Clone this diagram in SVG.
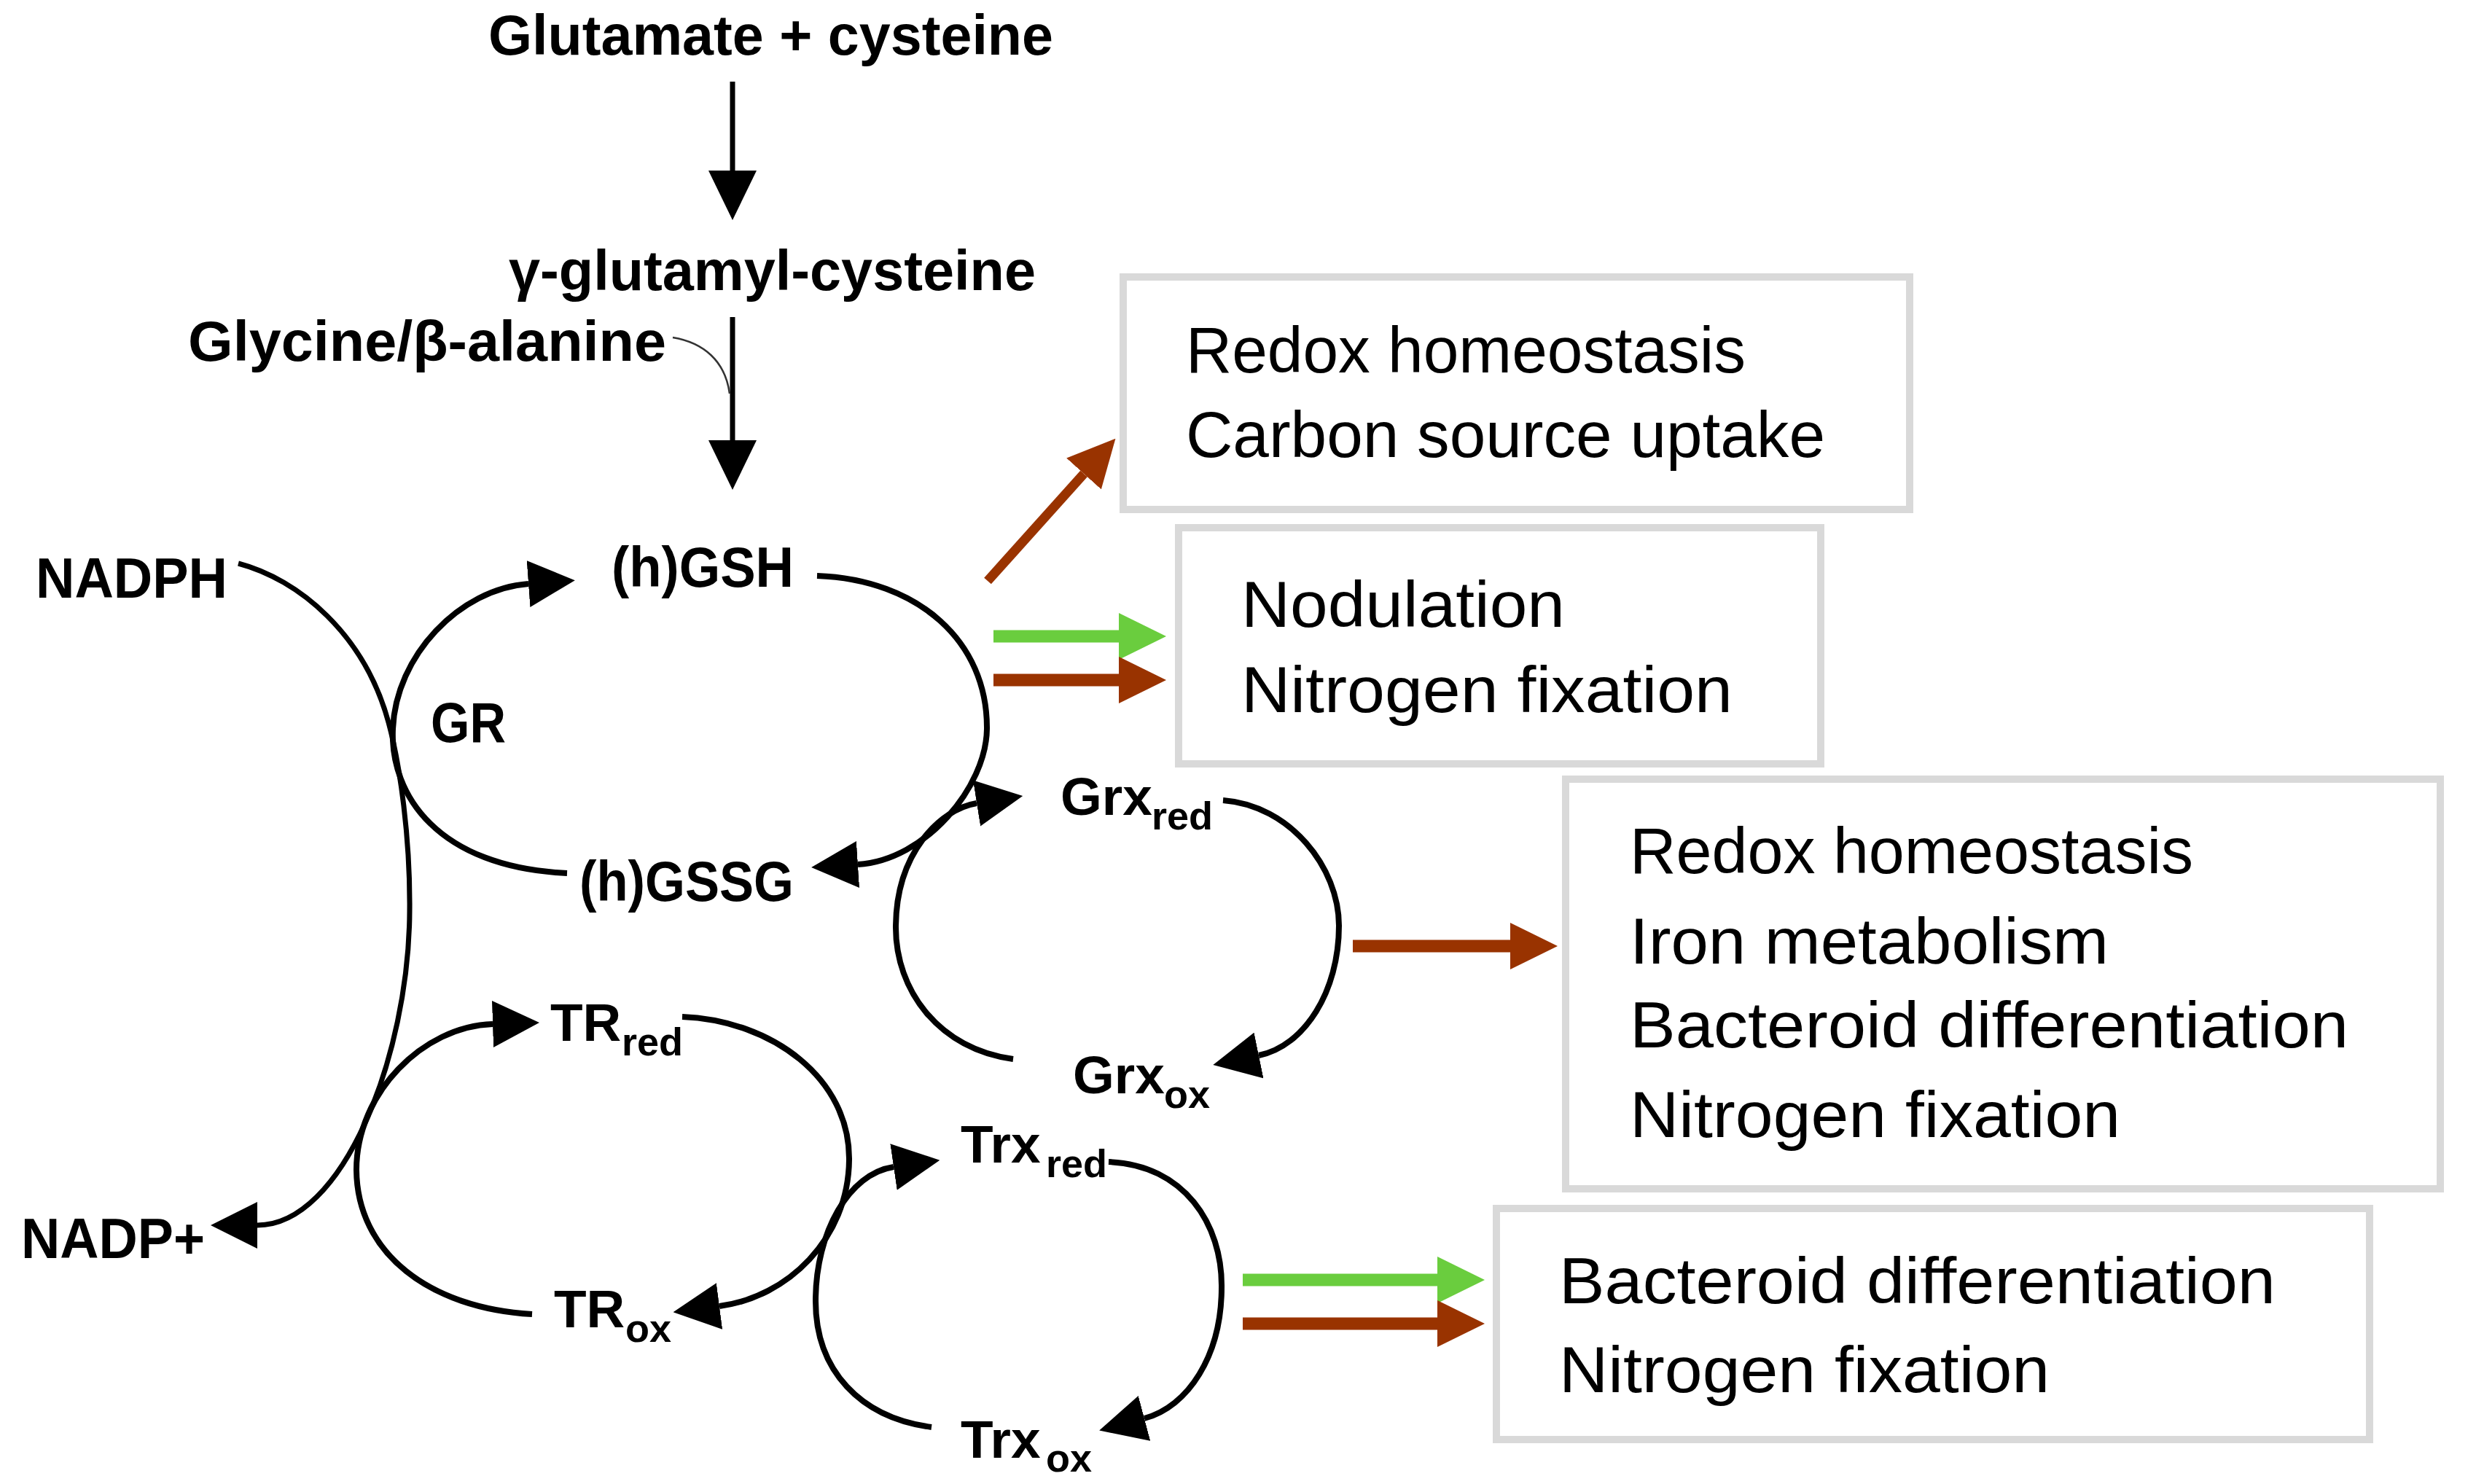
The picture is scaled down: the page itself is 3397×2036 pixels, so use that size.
<svg xmlns="http://www.w3.org/2000/svg" width="3397" height="2036" viewBox="0 0 3397 2036">
<defs>
<style>
.lbl{font-family:"Liberation Sans",Arial,sans-serif;font-weight:bold;font-size:78px;fill:#000}
.lbs{font-family:"Liberation Sans",Arial,sans-serif;font-weight:bold;font-size:73px;fill:#000}
.sub{font-size:54px}
.box{fill:#fff;stroke:#d9d9d9;stroke-width:10}
.bt{font-family:"Liberation Sans",Arial,sans-serif;font-size:89px;fill:#000}
.ln{fill:none;stroke:#000;stroke-width:8}
.nl{fill:none;stroke:#000;stroke-width:7}
.vt{fill:none;stroke:#000;stroke-width:7}
.hair{fill:none;stroke:#333;stroke-width:2.5}
.br{fill:none;stroke:#993300;stroke-width:17}
.brd{fill:none;stroke:#993300;stroke-width:13}
.gr{fill:none;stroke:#6acd3e;stroke-width:17}
</style>
<marker id="ah" markerUnits="userSpaceOnUse" viewBox="0 0 64 64" markerWidth="64" markerHeight="64" refX="0" refY="32" orient="auto"><path d="M0,0L64,32L0,64Z" fill="#000"/></marker>
<marker id="ahv" markerUnits="userSpaceOnUse" viewBox="0 0 68 66" markerWidth="68" markerHeight="66" refX="0" refY="33" orient="auto"><path d="M0,0L68,33L0,66Z" fill="#000"/></marker>
<marker id="ahb" markerUnits="userSpaceOnUse" viewBox="0 0 65 64" markerWidth="65" markerHeight="64" refX="0" refY="32" orient="auto"><path d="M0,0L65,32L0,64Z" fill="#993300"/></marker>
<marker id="ahg" markerUnits="userSpaceOnUse" viewBox="0 0 65 64" markerWidth="65" markerHeight="64" refX="0" refY="32" orient="auto"><path d="M0,0L65,32L0,64Z" fill="#6acd3e"/></marker>
</defs>
<rect x="0" y="0" width="3397" height="2036" fill="#fff"/>

<g id="connectors">
<path class="vt" d="M1005,112V234" marker-end="url(#ahv)"/>
<path class="vt" d="M1005,435V604" marker-end="url(#ahv)"/>
<path class="hair" d="M923,463C965,470 995,495 1001,540"/>
<path class="nl" d="M327,773C410,795 500,870 533,991C549,1050 563,1150 562,1250C561,1450 470,1681 353,1681" marker-end="url(#ah)"/>
<path class="ln" d="M778,1198C600,1190 535,1090 539,1000C543,900 630,808 725,801" marker-end="url(#ah)"/>
<path class="ln" d="M1121,790C1260,795 1355,880 1354,1000C1353,1080 1270,1180 1177,1186" marker-end="url(#ah)"/>
<path class="ln" d="M1390,1453C1290,1440 1228,1360 1229,1270C1230,1170 1290,1110 1340,1102" marker-end="url(#ah)"/>
<path class="ln" d="M1678,1098C1770,1105 1837,1190 1837,1270C1837,1360 1790,1435 1727,1448" marker-end="url(#ah)"/>
<path class="ln" d="M730,1803C590,1795 490,1720 489,1605C489,1500 580,1408 676,1405" marker-end="url(#ah)"/>
<path class="ln" d="M936,1395C1060,1400 1166,1480 1165,1591C1164,1700 1080,1780 987,1792" marker-end="url(#ah)"/>
<path class="ln" d="M1278,1958C1180,1945 1119,1880 1119,1785C1119,1690 1165,1610 1226,1601" marker-end="url(#ah)"/>
<path class="ln" d="M1521,1594C1625,1598 1677,1680 1676,1766C1676,1860 1630,1930 1570,1946" marker-end="url(#ah)"/>
<path class="brd" d="M1355,797L1487,650" marker-end="url(#ahb)"/>
<path class="gr" d="M1363,873H1535" marker-end="url(#ahg)"/>
<path class="br" d="M1363,933H1535" marker-end="url(#ahb)"/>
<path class="br" d="M1856,1298H2072" marker-end="url(#ahb)"/>
<path class="gr" d="M1705,1756H1972" marker-end="url(#ahg)"/>
<path class="br" d="M1705,1816H1972" marker-end="url(#ahb)"/>
</g>

<g id="glutamate"><text class="lbl" x="670" y="75" textLength="775" lengthAdjust="spacingAndGlyphs">Glutamate + cysteine</text></g>
<g id="gamma-glutamyl-cysteine"><text class="lbl" x="698" y="398" textLength="723" lengthAdjust="spacingAndGlyphs">γ-glutamyl-cysteine</text></g>
<g id="glycine"><text class="lbl" x="258" y="495" textLength="656" lengthAdjust="spacingAndGlyphs">Glycine/β-alanine</text></g>
<g id="nadph"><text class="lbl" x="49" y="820" textLength="263" lengthAdjust="spacingAndGlyphs">NADPH</text></g>
<g id="gsh"><text class="lbl" x="839" y="805" textLength="250" lengthAdjust="spacingAndGlyphs">(h)GSH</text></g>
<g id="gr"><text class="lbl" x="591" y="1018" textLength="103" lengthAdjust="spacingAndGlyphs">GR</text></g>
<g id="gssg"><text class="lbl" x="795" y="1236" textLength="294" lengthAdjust="spacingAndGlyphs">(h)GSSG</text></g>
<g id="grx-red"><text class="lbs" x="1455" y="1118">Grx<tspan class="sub" x="1580" y="1138">red</tspan></text></g>
<g id="grx-ox"><text class="lbs" x="1472" y="1500">Grx<tspan class="sub" x="1597" y="1520">ox</tspan></text></g>
<g id="tr-red"><text class="lbs" x="755" y="1428">TR<tspan class="sub" x="853" y="1448">red</tspan></text></g>
<g id="tr-ox"><text class="lbs" x="760" y="1821">TR<tspan class="sub" x="858" y="1841">ox</tspan></text></g>
<g id="nadp"><text class="lbl" x="29" y="1726" textLength="252" lengthAdjust="spacingAndGlyphs">NADP+</text></g>
<g id="trx-red"><text class="lbs" x="1318" y="1595">Trx<tspan class="sub" x="1435" y="1615">red</tspan></text></g>
<g id="trx-ox"><text class="lbs" x="1318" y="2000">Trx<tspan class="sub" x="1435" y="2019">ox</tspan></text></g>

<g id="box-redox-carbon">
<rect class="box" x="1541" y="380" width="1079" height="319"/>
<text class="bt" x="1627" y="511" textLength="768" lengthAdjust="spacingAndGlyphs">Redox homeostasis</text>
<text class="bt" x="1627" y="627" textLength="877" lengthAdjust="spacingAndGlyphs">Carbon source uptake</text>
</g>
<g id="box-nodulation">
<rect class="box" x="1617" y="724" width="881" height="324"/>
<text class="bt" x="1703" y="860" textLength="444" lengthAdjust="spacingAndGlyphs">Nodulation</text>
<text class="bt" x="1703" y="977" textLength="674" lengthAdjust="spacingAndGlyphs">Nitrogen fixation</text>
</g>
<g id="box-grx-functions">
<rect class="box" x="2148" y="1069" width="1200" height="562"/>
<text class="bt" x="2236" y="1198" textLength="773" lengthAdjust="spacingAndGlyphs">Redox homeostasis</text>
<text class="bt" x="2236" y="1322" textLength="657" lengthAdjust="spacingAndGlyphs">Iron metabolism</text>
<text class="bt" x="2236" y="1437" textLength="986" lengthAdjust="spacingAndGlyphs">Bacteroid differentiation</text>
<text class="bt" x="2236" y="1560" textLength="673" lengthAdjust="spacingAndGlyphs">Nitrogen fixation</text>
</g>
<g id="box-trx-functions">
<rect class="box" x="2053" y="1658" width="1198" height="317"/>
<text class="bt" x="2139" y="1788" textLength="983" lengthAdjust="spacingAndGlyphs">Bacteroid differentiation</text>
<text class="bt" x="2139" y="1910" textLength="673" lengthAdjust="spacingAndGlyphs">Nitrogen fixation</text>
</g>
</svg>
